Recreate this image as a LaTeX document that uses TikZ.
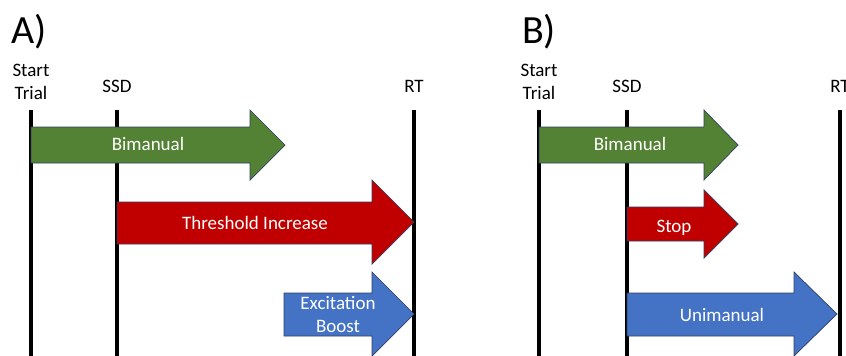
\documentclass[tikz,border=0pt]{standalone}
\usepackage{fontspec}
\setmainfont{Carlito}
\definecolor{arrowedge}{HTML}{2F3F5F}
\definecolor{bigreen}{HTML}{548235}
\definecolor{bired}{HTML}{C00000}
\definecolor{biblue}{HTML}{4472C4}
\begin{document}
\begin{tikzpicture}[x=1pt,y=-1pt,
  vline/.style={line width=3.5pt},
  lbl/.style={font=\fontsize{19}{23}\selectfont, inner sep=0pt, anchor=base},
  intext/.style={lbl, text=white},
  arr/.style={draw=arrowedge, line width=0.7pt, line join=miter},
  panel/.style={font=\fontsize{40}{44}\selectfont, inner sep=0pt, anchor=base west}]
\useasboundingbox (0,0) rectangle (846,356);
% panel labels
\node[panel] (pa) at (11,43) {A)};
\node[panel] (pb) at (522,43) {B)};
% ---- Panel A ----
\node[lbl] (as1) at (31,76) {Start};
\node[lbl] (as2) at (31,99) {Trial};
\node[lbl] (assd) at (117,92) {SSD};
\node[lbl] (art) at (414,92) {RT};
\draw[vline] (31,110) -- (31,360);
\draw[vline] (117,110) -- (117,360);
\draw[vline] (414,110) -- (414,360);
\filldraw[arr, fill=bigreen] (31,127) -- (250,127) -- (250,110) -- (285,145) -- (250,180) -- (250,163) -- (31,163) -- cycle;
\node[intext] (abim) at (148,150) {Bimanual};
\filldraw[arr, fill=bired] (117,202) -- (372,202) -- (372,180) -- (414,222) -- (372,264) -- (372,244) -- (117,244) -- cycle;
\node[intext] (athr) at (255,229) {Threshold Increase};
\filldraw[arr, fill=biblue] (284,293) -- (372,293) -- (372,272) -- (414,314) -- (372,356) -- (372,336) -- (284,336) -- cycle;
\node[intext] (aexc) at (338,309) {Excitation};
\node[intext] (aboo) at (338,332) {Boost};
% ---- Panel B ----
\node[lbl] (bs1) at (539,76) {Start};
\node[lbl] (bs2) at (539,99) {Trial};
\node[lbl] (bssd) at (627,92) {SSD};
\node[lbl] (brt) at (840,92) {RT};
\draw[vline] (539,110) -- (539,360);
\draw[vline] (627,110) -- (627,360);
\draw[vline] (840,110) -- (840,360);
\filldraw[arr, fill=bigreen] (539,127) -- (704,127) -- (704,110) -- (738,145) -- (704,180) -- (704,163) -- (539,163) -- cycle;
\node[intext] (bbim) at (630,150) {Bimanual};
\filldraw[arr, fill=bired] (627,207) -- (704,207) -- (704,190) -- (738,224) -- (704,258) -- (704,241) -- (627,241) -- cycle;
\node[intext] (bstop) at (674,232) {Stop};
\filldraw[arr, fill=biblue] (627,293) -- (794,293) -- (794,272) -- (837,314) -- (794,356) -- (794,336) -- (627,336) -- cycle;
\node[intext] (buni) at (722,321) {Unimanual};
\end{tikzpicture}
\end{document}
